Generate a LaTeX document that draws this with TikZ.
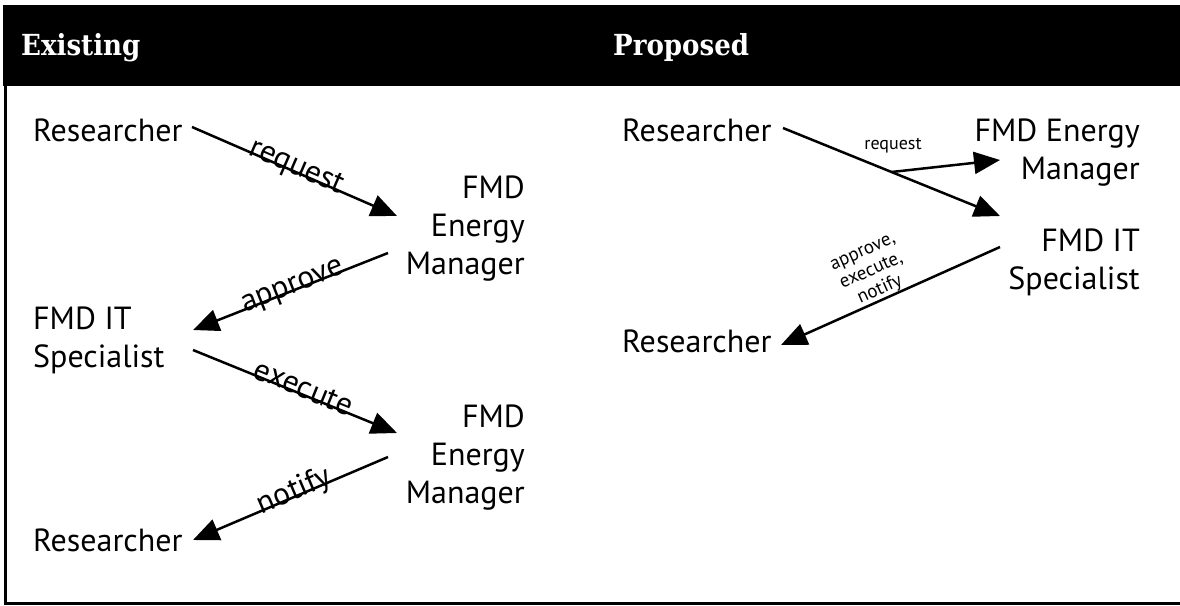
\documentclass[tikz,border=0pt]{standalone}
\usepackage{fontspec}
\setmainfont{PT Sans}
\newfontfamily\titlefont{DejaVu Serif Condensed}
\usetikzlibrary{arrows.meta,calc}
\begin{document}
\begin{tikzpicture}[x=1pt,y=-1pt,
  every node/.style={inner sep=0pt},
  big/.style={font=\fontsize{32}{38}\selectfont},
  lbl/.style={font=\fontsize{31.5}{36}\selectfont, sloped, anchor=base, yshift=-3pt},
  small/.style={font=\fontsize{18}{20}\selectfont},
  small3/.style={font=\fontsize{19}{21}\selectfont},
  arr/.style={line width=2.5pt, -{Triangle[length=26pt,width=22pt]}},
  ttl/.style={font=\titlefont\bfseries\fontsize{29}{34}\selectfont, text=white, anchor=base west},
]
\useasboundingbox (0,0) rectangle (1180,605);
\fill (3,5) rectangle (1180,86);
\draw[line width=3pt] (5.5,86) -- (5.5,603.5) -- (1180,603.5);
\node[ttl] (hx) at (21,55) {Existing};
\node[ttl] (hp) at (613,55) {Proposed};
% left
\node[big, anchor=base west] (r1) at (33,141) {Researcher};
\node[big, anchor=north east, align=right] (e1) at (525,176) {FMD\\Energy\\Manager};
\node[big, anchor=north west, align=left] (s1) at (33,306.5) {FMD IT\\Specialist};
\node[big, anchor=north east, align=right] (e2) at (525,404.5) {FMD\\Energy\\Manager};
\node[big, anchor=base west] (r4) at (33,551) {Researcher};
\draw[arr] ([shift={(159,-14)}]r1.base west) -- node[lbl, pos=0.5]{request} ([shift={(-128,40)}]e1.north east);
\draw[arr] ([shift={(-137,77)}]e1.north east) -- node[lbl, pos=0.48]{approve} ([shift={(160,23.5)}]s1.north west);
\draw[arr] ([shift={(160,43.5)}]s1.north west) -- node[lbl, pos=0.53]{execute} ([shift={(-128,28.5)}]e2.north east);
\draw[arr] ([shift={(-137,52.5)}]e2.north east) -- node[lbl, pos=0.47]{notify} ([shift={(160,-11)}]r4.base west);
% right
\node[big, anchor=base west] (r2) at (622,141) {Researcher};
\node[big, anchor=north east, align=right] (e3) at (1140,118.5) {FMD Energy\\Manager};
\node[big, anchor=north east, align=right] (s2) at (1140,228.5) {FMD IT\\Specialist};
\node[big, anchor=base west] (r3) at (622,352) {Researcher};
\draw[arr] ([shift={(161,-13)}]r2.base west) -- coordinate[pos=0.5] (br) ([shift={(-140,-12.5)}]s2.north east);
\draw[arr] (br) -- ([shift={(-140,41.5)}]e3.north east);
\node[small] (rq) at (893,146) {request};
\draw[arr] ([shift={(-140,18.5)}]s2.north east) -- node[small3, sloped, anchor=south, align=center, pos=0.53]{approve,\\execute,\\notify} ([shift={(159,-7)}]r3.base west);
\end{tikzpicture}
\end{document}
